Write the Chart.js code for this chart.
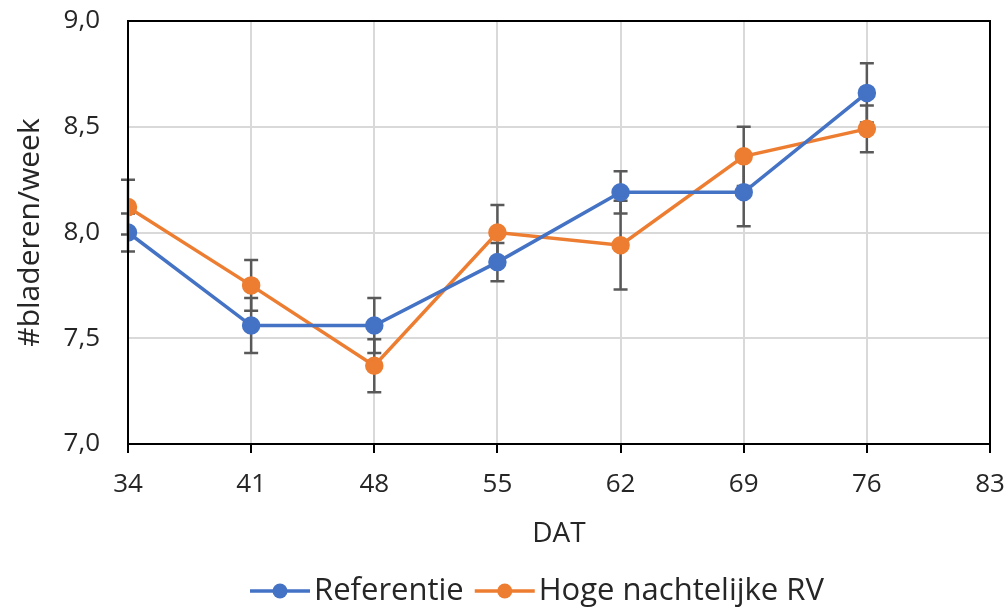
<!DOCTYPE html>
<html>
<head>
<meta charset="utf-8">
<script src="https://cdn.jsdelivr.net/npm/chart.js@4"></script>
<style>
  html,body{margin:0;padding:0;background:#fff;}
  #wrap{width:1008px;height:608px;}
</style>
</head>
<body>
<div id="wrap"><canvas id="c" width="1008" height="608"></canvas></div>
<script>
// data
const dat = [34, 41, 48, 55, 62, 69, 76];
const refValues = [8.00, 7.56, 7.56, 7.86, 8.19, 8.19, 8.66];
const refErr    = [0.09, 0.13, 0.13, 0.09, 0.10, 0.16, 0.14];
const rvValues  = [8.12, 7.75, 7.37, 8.00, 7.94, 8.36, 8.49];
const rvErr     = [0.13, 0.12, 0.125, 0.13, 0.21, 0.14, 0.11];
const seriesNames = ['Referentie', 'Hoge nachtelijke RV'];
const colors = ['#4472C4', '#ED7D31'];

const FONT = '"Open Sans", "Noto Sans", sans-serif';
const TXT = '#262626';

function pts(xs, ys){ return xs.map((x,i)=>({x:x, y:ys[i]})); }

const errBars = {
  id:'errBars',
  beforeDatasetsDraw(chart){
    const ctx=chart.ctx, xs=chart.scales.x, ys=chart.scales.y;
    const errs=[refErr, rvErr];
    ctx.save();
    ctx.strokeStyle='#595959';ctx.lineWidth=2.5;
    chart.data.datasets.forEach((ds,di)=>{
      ds.data.forEach((p,i)=>{
        const px=xs.getPixelForValue(p.x);
        const top=ys.getPixelForValue(p.y+errs[di][i]);
        const bot=ys.getPixelForValue(p.y-errs[di][i]);
        ctx.beginPath();
        ctx.moveTo(px,top);ctx.lineTo(px,bot);
        ctx.moveTo(px-7,top);ctx.lineTo(px+7,top);
        ctx.moveTo(px-7,bot);ctx.lineTo(px+7,bot);
        ctx.stroke();
      });
    });
    ctx.restore();
  }
};

// plot frame + legend (line with dot, then name)
const frameLegend = {
  id:'frameLegend',
  afterDraw(chart){
    const a=chart.chartArea, ctx=chart.ctx;
    ctx.save();ctx.strokeStyle='#000';ctx.lineWidth=2;
    ctx.strokeRect(a.left,a.top,a.right-a.left,a.bottom-a.top);

    ctx.font='31px '+FONT;ctx.textBaseline='middle';
    const y=591;
    let x=250;
    chart.data.datasets.forEach((d,i)=>{
      ctx.strokeStyle=d.borderColor;ctx.lineWidth=3.5;
      ctx.beginPath();ctx.moveTo(x,y);ctx.lineTo(x+60,y);ctx.stroke();
      ctx.fillStyle=d.borderColor;ctx.beginPath();ctx.arc(x+30,y,7.5,0,Math.PI*2);ctx.fill();
      ctx.fillStyle=TXT;ctx.fillText(d.label,x+64,y);
      x+=64+ctx.measureText(d.label).width+11;
    });
    ctx.restore();
  }
};

new Chart(document.getElementById('c'),{
  type:'line',
  data:{datasets:[
    {label:seriesNames[0],data:pts(dat,refValues),borderColor:colors[0],backgroundColor:colors[0],
     borderWidth:3.5,pointRadius:7.5,pointHoverRadius:7.5,tension:0},
    {label:seriesNames[1],data:pts(dat,rvValues),borderColor:colors[1],backgroundColor:colors[1],
     borderWidth:3.5,pointRadius:7.5,pointHoverRadius:7.5,tension:0}
  ]},
  options:{
    responsive:false,animation:false,
    layout:{padding:{top:21,right:18,left:0,bottom:54}},
    plugins:{tooltip:{enabled:false},legend:{display:false}},
    scales:{
      x:{type:'linear',min:34,max:83,
        ticks:{stepSize:7,color:TXT,font:{family:FONT,size:26},padding:16},
        grid:{color:'#d9d9d9',lineWidth:2,tickLength:9,tickColor:'#000',tickWidth:2},
        border:{color:'#000',width:2},
        title:{display:true,text:'DAT',color:TXT,font:{family:FONT,size:28},padding:{top:4,bottom:3}},
        afterFit(s){s.height=110;s.paddingLeft=0;s.paddingRight=0;}
      },
      y:{min:7,max:9,
        ticks:{stepSize:0.5,color:TXT,font:{family:FONT,size:26},padding:28,
          callback:v=>v.toFixed(1).replace('.',',')},
        grid:{color:'#d9d9d9',lineWidth:2,drawTicks:false},
        border:{color:'#000',width:2},
        title:{display:true,text:'#bladeren/week',color:TXT,font:{family:FONT,size:30},padding:{top:12,bottom:0}},
        afterFit(s){s.width=128;s.paddingTop=0;s.paddingBottom=0;}
      }
    }
  },
  plugins:[errBars,frameLegend]
});
</script>
</body>
</html>
